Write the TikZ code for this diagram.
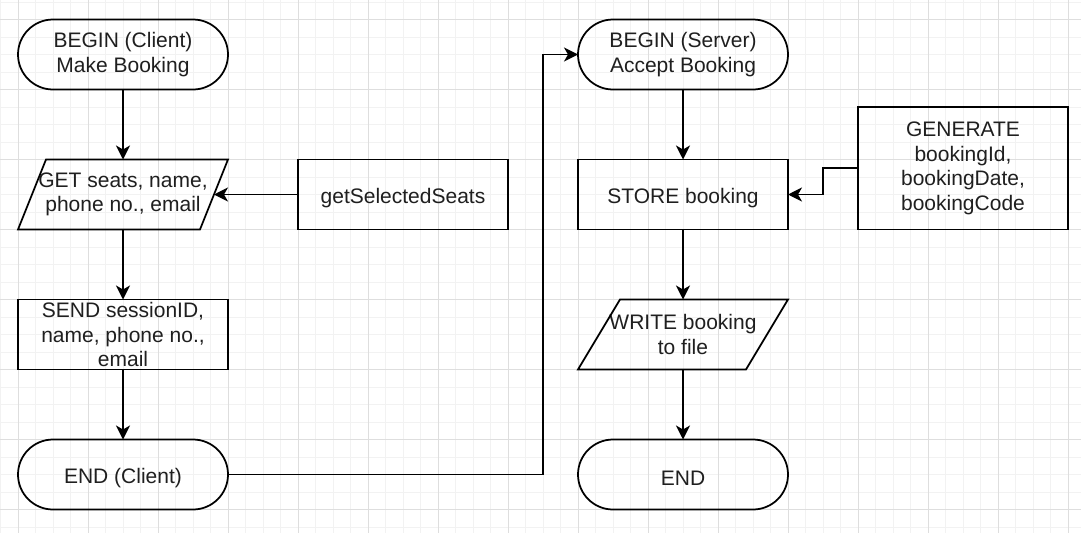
\documentclass[tikz,border=0pt]{standalone}
\usepackage{fontspec}
\setmainfont{Liberation Sans}
\usetikzlibrary{arrows.meta}
\begin{document}
\begin{tikzpicture}[x=1pt,y=-1pt,
  minorgrid/.style={draw=black!5,line width=0.9pt},
  majorgrid/.style={draw=black!13,line width=0.9pt},
  base/.style={line width=1.75pt,minimum width=210pt,minimum height=70pt,
    align=center,outer sep=0pt,inner sep=0pt,
    font=\fontsize{21}{24.5}\selectfont,text=black!88,
    execute at begin node={\rule{0pt}{22pt}}},
  term/.style={base,draw,rounded corners=35pt},
  proc/.style={base,draw},
  iobox/.style={base},
  ioline/.style={line width=1.75pt,line join=miter},
  arr/.style={line width=1.75pt,-{Stealth[length=14pt,width=14pt,inset=4pt]}}]
\useasboundingbox (0,0) rectangle (1081,533);
\fill[white] (0,0) rectangle (1081,533);
% grid
\foreach \i in {-1,...,61} {
  \pgfmathsetmacro\xx{18+17.5*\i}
  \draw[minorgrid] (\xx,0) -- (\xx,533);
}
\foreach \i in {-1,...,30} {
  \pgfmathsetmacro\yy{19.5+17.5*\i}
  \draw[minorgrid] (0,\yy) -- (1081,\yy);
}
\foreach \i in {0,...,15} {
  \pgfmathsetmacro\xx{18+70*\i}
  \draw[majorgrid] (\xx,0) -- (\xx,533);
}
\foreach \i in {0,...,7} {
  \pgfmathsetmacro\yy{19.5+70*\i}
  \draw[majorgrid] (0,\yy) -- (1081,\yy);
}
% client column
\node[term] (b1) at (123,54.5) {BEGIN (Client)\\Make Booking};
\node[iobox] (get) at (123,194.5) {GET seats, name,\\phone no., email};
\draw[ioline] ([xshift=28pt]get.north west) -- (get.north east)
  -- ([xshift=-28pt]get.south east) -- (get.south west) -- cycle;
\coordinate (getr) at ([xshift=-14pt]get.east);
\node[proc] (send) at (123,334.5) {SEND sessionID,\\name, phone no.,\\email};
\node[term] (e1) at (123,474.5) {END (Client)};
\node[proc] (sel) at (403,194.5) {getSelectedSeats};
% server column
\node[term] (b2) at (683,54.5) {BEGIN (Server)\\Accept Booking};
\node[proc] (store) at (683,194.5) {STORE booking};
\node[proc,minimum height=122.5pt] (gen) at (963,168.25) {GENERATE\\bookingId,\\bookingDate,\\bookingCode};
\node[iobox] (write) at (683,334.5) {WRITE booking\\to file};
\draw[ioline] ([xshift=42pt]write.north west) -- (write.north east)
  -- ([xshift=-42pt]write.south east) -- (write.south west) -- cycle;
\node[term] (e2) at (683,474.5) {END};
% connectors
\draw[arr] (b1) -- (get);
\draw[arr] (sel) -- (getr);
\draw[arr] (get) -- (send);
\draw[arr] (send) -- (e1);
\draw[arr] (e1.east) -- ++(315,0) |- (b2.west);
\draw[arr] (b2) -- (store);
\draw[arr] (gen.west) -- ++(-35,0) |- (store.east);
\draw[arr] (store) -- (write);
\draw[arr] (write) -- (e2);
\end{tikzpicture}
\end{document}
